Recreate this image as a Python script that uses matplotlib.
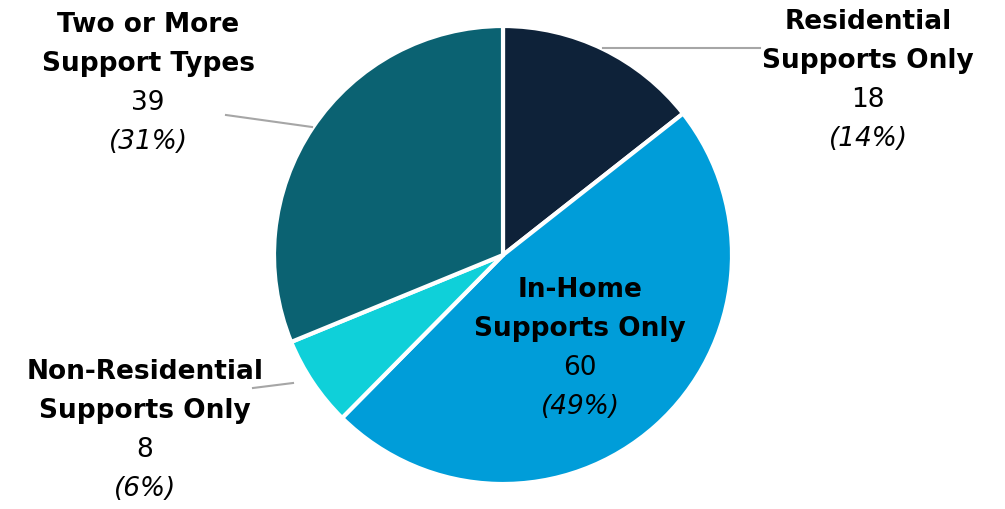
import matplotlib.pyplot as plt

labels = ['Residential\nSupports Only', 'In-Home\nSupports Only',
          'Non-Residential\nSupports Only', 'Two or More\nSupport Types']
counts = [18, 60, 8, 39]
pcts = ['(14%)', '(49%)', '(6%)', '(31%)']
colors = ['#0E2239', '#009DD9', '#0FD0D9', '#0B6272']

W, H = 1005, 509
fig = plt.figure(figsize=(W / 100, H / 100), dpi=100)
ax = fig.add_axes([0, 0, 1, 1])

ax.pie(counts, colors=colors, startangle=90, counterclock=False,
       center=(503, H - 255), radius=229,
       wedgeprops=dict(edgecolor='white', linewidth=3))

# pie() resets the view, so set the pixel frame afterwards
ax.set_xlim(0, W)
ax.set_ylim(0, H)
ax.set_aspect('equal')
ax.axis('off')

# label anchor (x, y of first line), pixel coords from top
pos = [(868, 22), (580, 290), (145, 372), (148, 25)]
step = 39
for lab, c, p, (x, y) in zip(labels, counts, pcts, pos):
    l1, l2 = lab.split('\n')
    ax.text(x, H - y, l1, ha='center', va='center', fontsize=19, fontweight='bold')
    ax.text(x, H - y - step, l2, ha='center', va='center', fontsize=19, fontweight='bold')
    ax.text(x, H - y - 2 * step, str(c), ha='center', va='center', fontsize=19)
    ax.text(x, H - y - 3 * step, p, ha='center', va='center', fontsize=19, style='italic')

# leader lines
leaders = [((603, 48), (760, 48)), ((226, 115), (312, 127)), ((253, 388), (293, 383))]
for (x0, y0), (x1, y1) in leaders:
    ax.plot([x0, x1], [H - y0, H - y1], color='#A6A6A6', lw=1.5)

fig.savefig('out.png', dpi=100)
